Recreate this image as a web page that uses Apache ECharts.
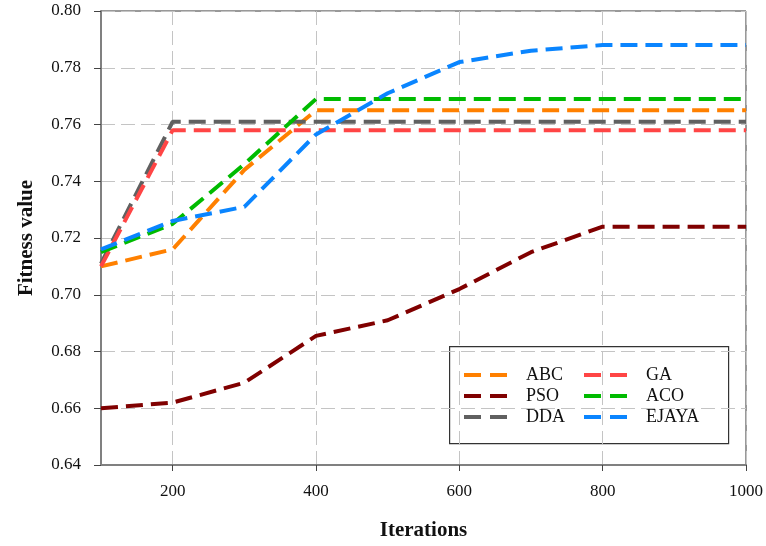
<!DOCTYPE html>
<html>
<head>
<meta charset="utf-8">
<script src="https://cdn.jsdelivr.net/npm/echarts@6/dist/echarts.min.js"></script>
<style>
  html, body { margin: 0; padding: 0; background: #fff; }
  #chart { width: 766px; height: 546px; }
</style>
</head>
<body>
<div id="chart"></div>
<script>
const iterations = [100, 200, 300, 400, 500, 600, 700, 800, 900, 1000]
const abc = [0.710, 0.716, 0.744, 0.765, 0.765, 0.765, 0.765, 0.765, 0.765, 0.765]
const pso = [0.660, 0.662, 0.669, 0.6855, 0.691, 0.702, 0.715, 0.724, 0.724, 0.724]
const dda = [0.711, 0.761, 0.761, 0.761, 0.761, 0.761, 0.761, 0.761, 0.761, 0.761]
const ga = [0.710, 0.758, 0.758, 0.758, 0.758, 0.758, 0.758, 0.758, 0.758, 0.758]
const aco = [0.715, 0.725, 0.746, 0.769, 0.769, 0.769, 0.769, 0.769, 0.769, 0.769]
const ejaya = [0.716, 0.726, 0.731, 0.7565, 0.771, 0.782, 0.786, 0.788, 0.788, 0.788]
const xTicks = [200, 400, 600, 800, 1000]

const serif = 'Liberation Serif'

function line(name, values, color) {
  return {
    name,
    type: 'line',
    data: iterations.map((x, i) => [x, values[i]]),
    symbol: 'none',
    lineStyle: { color, width: 4, type: [17, 8] },
    itemStyle: { color }
  }
}

const chart = echarts.init(document.getElementById('chart'))

// two short dashes as the legend icon
const dashIcon = 'path://M0,0H17V4H0Z M26,0H43V4H26Z'

const legendCommon = {
  orient: 'vertical',
  icon: dashIcon,
  itemWidth: 43,
  itemHeight: 4,
  itemGap: 3,
  textStyle: { fontFamily: serif, fontSize: 18, color: '#111', padding: [0, 0, 0, 14] }
}

chart.setOption({
  animation: false,
  grid: {
    left: 101, right: 18, top: 11, bottom: 81,
    show: true, borderColor: '#333', borderWidth: 1
  },
  legend: [
    Object.assign({ left: 459, top: 361, data: ['ABC', 'PSO', 'DDA'] }, legendCommon),
    Object.assign({ left: 579, top: 361, data: ['GA', 'ACO', 'EJAYA'] }, legendCommon)
  ],
  graphic: [{
    type: 'rect',
    left: 449, top: 346,
    shape: { width: 279, height: 97 },
    style: { fill: '#fff', stroke: '#333', lineWidth: 1.2 },
    z: 0
  }],
  xAxis: {
    type: 'value',
    min: 100, max: 1000,
    name: 'Iterations',
    nameLocation: 'middle',
    nameGap: 55,
    nameTextStyle: { fontFamily: serif, fontSize: 21, fontWeight: 'bold', color: '#111' },
    axisLine: { lineStyle: { color: '#808080', width: 2 } },
    axisTick: { customValues: xTicks, length: 6, inside: false, lineStyle: { color: '#444' } },
    axisLabel: {
      customValues: xTicks, margin: 18,
      fontFamily: serif, fontSize: 17, color: '#111',
      formatter: v => String(v)
    },
    splitLine: { show: true, lineStyle: { color: '#c4c4c4', type: [14, 6], width: 1 } }
  },
  yAxis: {
    type: 'value',
    min: 0.64, max: 0.80, interval: 0.02,
    name: 'Fitness value',
    nameLocation: 'middle',
    nameGap: 64,
    nameTextStyle: { fontFamily: serif, fontSize: 21, fontWeight: 'bold', color: '#111' },
    axisLine: { show: true, lineStyle: { color: '#808080', width: 2 } },
    axisTick: { show: true, length: 7, lineStyle: { color: '#444' } },
    axisLabel: {
      margin: 20,
      fontFamily: serif, fontSize: 17, color: '#111',
      formatter: v => v.toFixed(2)
    },
    splitLine: { show: true, lineStyle: { color: '#c4c4c4', type: [14, 6], width: 1 } }
  },
  series: [
    line('ABC', abc, '#ff8000'),
    line('PSO', pso, '#800000'),
    line('DDA', dda, '#606060'),
    line('GA', ga, '#ff4545'),
    line('ACO', aco, '#00bb00'),
    line('EJAYA', ejaya, '#0a85ff')
  ]
})
</script>
</body>
</html>
